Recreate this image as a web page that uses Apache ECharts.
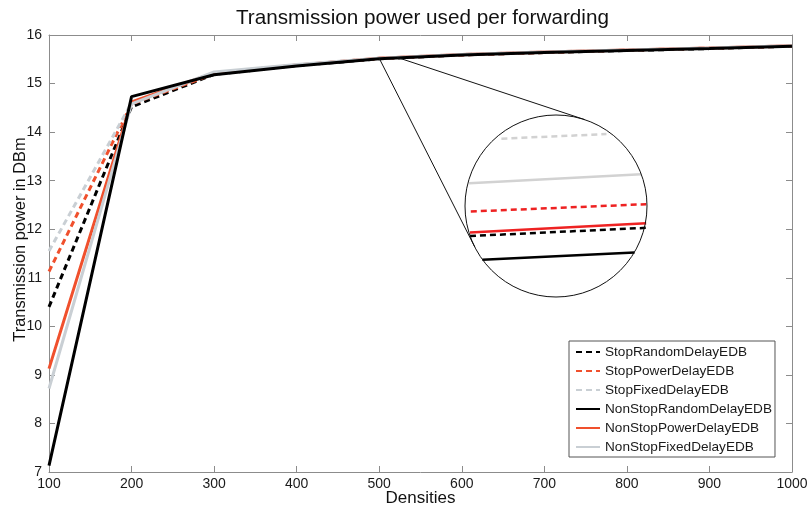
<!DOCTYPE html>
<html>
<head>
<meta charset="utf-8">
<script src="https://cdn.jsdelivr.net/npm/echarts@6/dist/echarts.min.js"></script>
<style>
  html, body { margin:0; padding:0; background:#fff; }
  #chart { width:809px; height:509px; }
</style>
</head>
<body>
<div id="chart"></div>
<script>
// === Data ===
const densities = [100, 200, 300, 400, 500, 600, 700, 800, 900, 1000];
const names = ['StopRandomDelayEDB', 'StopPowerDelayEDB', 'StopFixedDelayEDB',
  'NonStopRandomDelayEDB', 'NonStopPowerDelayEDB', 'NonStopFixedDelayEDB'];
const stopRandom    = [10.40, 14.52, 15.19, 15.37, 15.51, 15.59, 15.64, 15.68, 15.72, 15.77];
const stopPower     = [11.13, 14.58, 15.20, 15.38, 15.52, 15.59, 15.64, 15.69, 15.73, 15.77];
const stopFixed     = [11.55, 14.60, 15.22, 15.38, 15.52, 15.60, 15.65, 15.69, 15.73, 15.78];
const nonStopRandom = [7.13, 14.73, 15.18, 15.36, 15.51, 15.59, 15.64, 15.68, 15.72, 15.77];
const nonStopPower  = [9.13, 14.62, 15.22, 15.38, 15.52, 15.60, 15.65, 15.69, 15.73, 15.78];
const nonStopFixed  = [8.72, 14.58, 15.24, 15.39, 15.52, 15.60, 15.65, 15.69, 15.73, 15.78];
const xTicks = { min:100, max:1000, interval:100 };
const yTicks = { min:7, max:16, interval:1 };

// zoomed view shown in the magnifier circle (x 500..522)
const zoomX = { min:500, max:522 };
const zoomY = { min:15.40, max:15.60 };
const zStopRandom    = [[500.6, 15.467], [521.9, 15.476]];
const zStopPower     = [[500.7, 15.494], [521.9, 15.502]];
const zStopFixed     = [[504.4, 15.574], [517.1, 15.579]];
const zNonStopRandom = [[502.1, 15.441], [520.5, 15.449]];
const zNonStopPower  = [[500.6, 15.471], [521.9, 15.481]];
const zNonStopFixed  = [[500.5, 15.525], [521.3, 15.535]];

// === Styles ===
const black = '#000000', red = '#f0502d', gray = '#c9cfd4';
const zRed = '#ee2222', zGray = '#d2d2d2';
const font = 'Liberation Sans, Arial, Helvetica, sans-serif';
const boxLine = { show:true, onZero:false, lineStyle:{ color:'#8c8c8c', width:1 } };
const inTicks = { show:true, inside:true, length:6, lineStyle:{ color:'#8c8c8c' } };
const dash = [6, 4];
const circle = { cx:556, cy:206, r:91 };

const mainData = [stopRandom, stopPower, stopFixed, nonStopRandom, nonStopPower, nonStopFixed];
const zoomData = [zStopRandom, zStopPower, zStopFixed, zNonStopRandom, zNonStopPower, zNonStopFixed];
const colors = [black, red, gray, black, red, gray];
const zColors = [black, zRed, zGray, black, zRed, zGray];
const dashed = [true, true, true, false, false, false];

function mainSeries(i){
  return { name:names[i], type:'line', xAxisIndex:0, yAxisIndex:0, symbol:'none',
    color:colors[i], z: i === 3 ? 4 : 3,
    lineStyle:{ color:colors[i], width:3, type: dashed[i] ? dash : 'solid' },
    data: densities.map((d, k) => [d, mainData[i][k]]) };
}
function zoomSeries(i){
  return { name:names[i], type:'line', xAxisIndex:2, yAxisIndex:2, symbol:'none',
    color:zColors[i], clip:false,
    lineStyle:{ color:zColors[i], width:2.5, type: dashed[i] ? dash : 'solid' },
    data: zoomData[i] };
}

const chart = echarts.init(document.getElementById('chart'), null, { renderer:'canvas' });
chart.setOption({
  animation:false,
  backgroundColor:'#fff',
  textStyle:{ fontFamily:font },
  title:{ text:'Transmission power used per forwarding', left:231, top:3,
    textStyle:{ fontFamily:font, fontSize:20.7, fontWeight:'normal', color:'#111' } },
  grid:[
    { left:49, right:17, top:35, bottom:37, outerBoundsMode:'none', containLabel:false },
    { left:circle.cx - circle.r, top:circle.cy - circle.r, width:circle.r * 2, height:circle.r * 2,
      outerBoundsMode:'none' }
  ],
  xAxis:[
    { type:'value', gridIndex:0, ...xTicks, position:'bottom', axisLine:boxLine, axisTick:inTicks,
      splitLine:{ show:false },
      axisLabel:{ color:'#1a1a1a', fontSize:14, margin:5, fontFamily:font, formatter: v => String(v) },
      name:'Densities', nameLocation:'middle', nameGap:18, nameMoveOverlap:false,
      nameTextStyle:{ color:'#111', fontSize:17, fontFamily:font } },
    { type:'value', gridIndex:0, ...xTicks, position:'top', axisLine:boxLine, axisTick:inTicks,
      splitLine:{ show:false }, axisLabel:{ show:false } },
    { type:'value', gridIndex:1, ...zoomX, show:false }
  ],
  yAxis:[
    { type:'value', gridIndex:0, ...yTicks, position:'left', axisLine:boxLine, axisTick:inTicks,
      splitLine:{ show:false },
      axisLabel:{ color:'#1a1a1a', fontSize:14, margin:7, fontFamily:font },
      name:'Transmission power in DBm', nameLocation:'middle', nameGap:21, nameMoveOverlap:false,
      nameTextStyle:{ color:'#111', fontSize:16.4, fontFamily:font, padding:[0, 0, 0, 28] } },
    { type:'value', gridIndex:0, ...yTicks, position:'right', axisLine:boxLine, axisTick:inTicks,
      splitLine:{ show:false }, axisLabel:{ show:false } },
    { type:'value', gridIndex:1, ...zoomY, show:false }
  ],
  legend:{
    data:names, orient:'vertical', left:569, top:341,
    padding:[4, 3, 3, 6], itemGap:5, itemWidth:24, itemHeight:14,
    itemStyle:{ opacity:0 },
    borderColor:'#555', borderWidth:1, backgroundColor:'#fff',
    textStyle:{ fontSize:13.6, color:'#1a1a1a', fontFamily:font }
  },
  series:[...names.map((_, i) => mainSeries(i)), ...names.map((_, i) => zoomSeries(i))]
});

// === Magnifier: circle + tangent lines from the zoomed stretch of the curve ===
function tangent(p, pickLeft){
  const dx = p[0] - circle.cx, dy = p[1] - circle.cy;
  const d = Math.hypot(dx, dy), a = Math.atan2(dy, dx), t = Math.acos(circle.r / d);
  const pts = [a + t, a - t].map(b => [circle.cx + circle.r * Math.cos(b), circle.cy + circle.r * Math.sin(b)]);
  pts.sort((u, v) => u[0] - v[0]);
  return pickLeft ? pts[0] : pts[1];
}
const yAt = x => { // curve height on the main chart at x (between 500 and 600)
  const k = densities.indexOf(500);
  return nonStopPower[k] + (nonStopPower[k + 1] - nonStopPower[k]) * (x - 500) / 100;
};
const pA = chart.convertToPixel({ gridIndex:0 }, [zoomX.min, yAt(zoomX.min)]);
const pB = chart.convertToPixel({ gridIndex:0 }, [zoomX.max, yAt(zoomX.max)]);
const tA = tangent(pA, true), tB = tangent(pB, false);
chart.setOption({
  graphic:[
    { type:'circle', shape:circle, style:{ fill:'none', stroke:'#111', lineWidth:1 }, z:10 },
    { type:'line', shape:{ x1:pA[0], y1:pA[1], x2:tA[0], y2:tA[1] }, style:{ stroke:'#111', lineWidth:1 }, z:10 },
    { type:'line', shape:{ x1:pB[0], y1:pB[1], x2:tB[0], y2:tB[1] }, style:{ stroke:'#111', lineWidth:1 }, z:10 }
  ]
});
</script>
</body>
</html>
